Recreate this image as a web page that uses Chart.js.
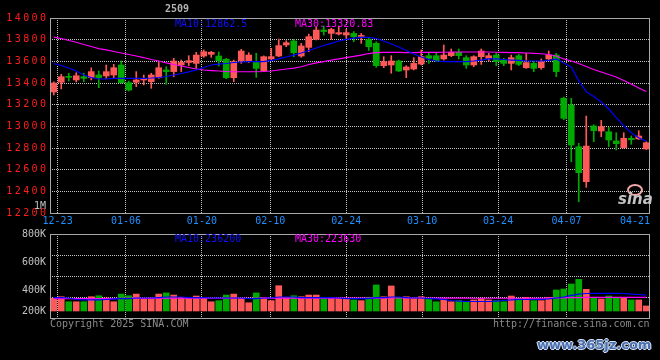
<!DOCTYPE html>
<html lang="zh-CN">
<head>
<meta charset="UTF-8">
<title>2509 日K线</title>
<script src="https://cdn.jsdelivr.net/npm/chart.js@4"></script>
<style>
  html, body { margin: 0; padding: 0; background: #000; width: 660px; height: 360px; overflow: hidden; }
  .wrap { position: relative; width: 660px; height: 360px; font-family: 'DejaVu Sans Mono', monospace; font-size: 10px; }
  #kline { position: absolute; left: 0; top: 0; }
  #vol { position: absolute; left: 0; top: 190px; }
  .txt { position: absolute; white-space: nowrap; line-height: 10px; }
  .blue { color: #1010ff; }
  .pink { color: #ff00ff; }
  .grey { color: #8a8a8a; }
  .mark { font-family: 'DejaVu Sans', sans-serif; font-weight: bold; font-size: 13px; line-height: 16px; color: #4a6fae;
          text-shadow: -1px 0 #d6e2f5, 1px 0 #d6e2f5, 0 -1px #d6e2f5, 0 1px #d6e2f5, 1px 1px 1px #203050; }
  .sina { font-family: 'DejaVu Sans', sans-serif; font-style: italic; font-weight: bold; font-size: 15px; line-height: 16px; color: #c4c4c4; }
  .eye { position: absolute; width: 12px; height: 8px; border: 2px solid #f0a8a8; border-radius: 50%; }
</style>
</head>
<body>
<div class="wrap">
  <canvas id="kline" width="660" height="228"></canvas>
  <canvas id="vol" width="660" height="170"></canvas>

  <div class="txt" style="left:165px; top:4px; font-weight:bold; color:#b4b4b4;">2509</div>
  <div class="txt blue" id="ma10Text" style="left:175px; top:19px;"></div>
  <div class="txt pink" id="ma30Text" style="left:295px; top:19px;"></div>
  <div class="txt blue" style="left:175px; top:234px;">MA10:236200</div>
  <div class="txt pink" style="left:295px; top:234px;">MA30:223630</div>
  <div class="txt grey" style="left:50px; top:319px;">Copyright 2025 SINA.COM</div>
  <div class="txt grey" style="left:493px; top:319px;">http://finance.sina.com.cn</div>
  <div class="eye" style="left:627px; top:184px;"></div>
  <div class="txt sina" style="left:618px; top:191px;">sina</div>
  <div class="txt mark" style="left:537px; top:337px;">www.365jz.com</div>
</div>

<script>
// trading days shown (12-20 .. 04-22)
const DATES = ['12-20','12-23','12-24','12-25','12-26','12-27','12-30','12-31','01-02','01-03',
  '01-06','01-07','01-08','01-09','01-10','01-13','01-14','01-15','01-16','01-17',
  '01-20','01-21','01-22','01-23','01-24','01-27','02-05','02-06','02-07','02-10',
  '02-11','02-12','02-13','02-14','02-17','02-18','02-19','02-20','02-21','02-24',
  '02-25','02-26','02-27','02-28','03-03','03-04','03-05','03-06','03-07','03-10',
  '03-11','03-12','03-13','03-14','03-17','03-18','03-19','03-20','03-21','03-24',
  '03-25','03-26','03-27','03-28','03-31','04-01','04-02','04-03','04-07','04-08',
  '04-09','04-10','04-11','04-14','04-15','04-16','04-17','04-18','04-21','04-22'];

const OPEN = [13317,13407,13458,13428,13458,13450,13474,13465,13474,13566,
  13403,13407,13428,13412,13450,13520,13505,13566,13590,13581,
  13649,13665,13649,13619,13449,13603,13603,13597,13514,13622,
  13649,13751,13788,13649,13729,13803,13889,13858,13852,13843,
  13858,13830,13800,13766,13560,13566,13603,13520,13529,13575,
  13652,13652,13622,13652,13683,13634,13566,13643,13628,13658,
  13612,13581,13652,13541,13581,13541,13622,13658,13259,13197,
  12812,12489,13003,12957,12950,12865,12803,12889,12883,12791];
const HIGH = [13410,13480,13490,13495,13490,13540,13511,13566,13572,13603,
  13418,13505,13474,13490,13590,13551,13628,13612,13652,13683,
  13705,13692,13686,13628,13612,13711,13680,13674,13650,13720,
  13806,13790,13803,13766,13852,13914,13926,13905,13926,13895,
  13875,13858,13812,13781,13643,13652,13612,13560,13634,13705,
  13674,13674,13751,13714,13714,13652,13652,13714,13674,13674,
  13628,13658,13665,13674,13603,13622,13695,13674,13270,13259,
  12843,13095,13015,13055,12990,12941,12941,12911,12960,12858];
const LOW = [13290,13345,13418,13410,13412,13428,13357,13443,13443,13397,
  13326,13366,13382,13351,13443,13388,13458,13505,13560,13535,
  13637,13637,13557,13440,13412,13581,13588,13452,13505,13615,
  13643,13735,13643,13637,13689,13797,13843,13803,13843,13812,
  13781,13766,13700,13545,13541,13490,13505,13449,13520,13566,
  13581,13597,13612,13643,13622,13535,13551,13572,13603,13560,
  13560,13520,13560,13535,13505,13526,13612,13458,13060,12674,
  12304,12437,12858,12905,12812,12782,12800,12834,12880,12785];
const CLOSE = [13400,13458,13452,13467,13443,13505,13450,13505,13541,13403,
  13335,13428,13443,13474,13541,13505,13603,13590,13606,13658,
  13689,13683,13606,13449,13597,13695,13658,13535,13643,13643,
  13745,13772,13680,13742,13828,13889,13875,13895,13865,13865,
  13828,13838,13735,13560,13597,13603,13511,13548,13581,13643,
  13628,13606,13658,13683,13652,13566,13643,13695,13652,13597,
  13581,13634,13572,13588,13535,13597,13658,13505,13074,12828,
  12572,12818,12960,12997,12874,12840,12889,12876,12911,12849];

const MA10 = [13580,13562,13538,13511,13474,13451,13437,13437,13442,13443,
  13443,13443,13443,13446,13451,13460,13474,13488,13502,13520,
  13543,13566,13575,13580,13589,13594,13597,13597,13598,13608,
  13622,13640,13658,13677,13700,13723,13746,13766,13788,13803,
  13815,13822,13822,13811,13788,13760,13732,13700,13668,13640,
  13617,13603,13598,13597,13597,13598,13603,13612,13622,13622,
  13617,13612,13608,13603,13603,13603,13608,13622,13585,13548,
  13420,13320,13275,13225,13160,13080,13005,12940,12895,12862.5];
const MA30 = [13823,13811,13792,13776,13755,13737,13718,13705,13691,13677,
  13663,13649,13635,13617,13603,13585,13571,13557,13543,13529,
  13520,13515,13511,13506,13504,13504,13504,13504,13506,13511,
  13520,13529,13538,13550,13571,13585,13598,13612,13622,13635,
  13645,13658,13672,13681,13683,13683,13683,13681,13681,13683,
  13683,13683,13684,13686,13686,13686,13686,13686,13686,13684,
  13683,13681,13680,13677,13674,13670,13663,13649,13622,13603,
  13580,13552,13525,13502,13478,13455,13423,13391,13354,13320.83];

const VOLUME = [341000,352000,316000,316000,316000,352000,359000,343000,316000,371000,
  359000,371000,334000,343000,371000,379000,364000,348000,348000,357000,
  348000,316000,324000,364000,371000,341000,309000,379000,348000,324000,
  431000,348000,359000,352000,364000,364000,348000,348000,341000,334000,
  329000,324000,348000,436000,352000,429000,348000,352000,341000,352000,
  334000,316000,329000,316000,324000,316000,329000,338000,329000,324000,
  316000,357000,341000,348000,324000,324000,348000,400000,407000,443000,
  476000,405000,348000,336000,357000,348000,341000,329000,329000,286000];
const VOL_MA10 = [346000,346000,343000,332000,329000,329000,329000,332000,336000,339000,
  339000,343000,343000,343000,346000,350000,350000,350000,346000,346000,
  346000,343000,343000,343000,343000,343000,339000,339000,343000,343000,
  350000,350000,350000,346000,346000,346000,346000,346000,343000,339000,
  339000,339000,339000,346000,346000,350000,350000,346000,343000,343000,
  339000,336000,332000,325000,321000,318000,318000,318000,318000,321000,
  325000,329000,332000,332000,332000,332000,336000,343000,350000,361000,
  371000,375000,376000,376000,376000,376000,375000,371000,368000,364000];
const VOL_MA30 = [339000,339000,339000,339000,339000,339000,339000,339000,339000,340000,
  340000,340000,340000,340000,340000,341000,341000,341000,341000,341000,
  341000,341000,341000,341000,341000,341000,341000,341000,342000,342000,
  342000,342000,342000,342000,342000,342000,342000,342000,342000,342000,
  342000,342000,342000,342000,342000,343000,343000,343000,343000,343000,
  343000,342000,342000,342000,342000,342000,341000,341000,341000,341000,
  341000,341000,341000,341000,341000,341000,342000,343000,344000,345000,
  346000,347000,347000,347000,347000,348000,348000,348000,348000,348000];
const VOL_BASE = 250000;

// axis text
const DATE_TICKS = [1, 10, 20, 29, 39, 49, 59, 68, 78];
const PRICE_TICKS = [14000, 13800, 13600, 13400, 13200, 13000, 12800, 12600, 12400, 12200];
const VOL_TICKS = [1000000, 800000, 600000, 400000, 200000];
const VOL_TICK_LABELS = ['1M', '800K', '600K', '400K', '200K'];

const UP = '#ff5858', DOWN = '#00aa00';
const GRID = '#c4c4c4';
const MONO = '"DejaVu Sans Mono", monospace';

document.getElementById('ma10Text').textContent = 'MA10:' + MA10[MA10.length - 1];
document.getElementById('ma30Text').textContent = 'MA30:' + MA30[MA30.length - 1];

const candleColors = OPEN.map((o, i) => CLOSE[i] >= o ? UP : DOWN);

// gray box round the plot area
const frame = {
  id: 'frame',
  afterDatasetsDraw(chart) {
    const { ctx, chartArea: a } = chart;
    ctx.save();
    ctx.strokeStyle = '#a8a8a8';
    ctx.lineWidth = 1;
    ctx.strokeRect(a.left + 0.5, a.top + 0.5, a.right - a.left - 1, a.bottom - a.top);
    ctx.restore();
  }
};

// y labels drawn at scale positions (lets us space letters like the original)
const sideLabels = {
  id: 'sideLabels',
  afterDraw(chart, args, opts) {
    if (!opts.values) return;
    const { ctx, chartArea } = chart;
    const scale = chart.scales.y;
    ctx.save();
    ctx.font = opts.font;
    ctx.fillStyle = opts.color;
    ctx.textAlign = 'right';
    ctx.textBaseline = 'middle';
    if ('letterSpacing' in ctx) ctx.letterSpacing = opts.spacing;
    opts.values.forEach((v, i) => {
      let y = scale.getPixelForValue(v);
      if (opts.floor) y = Math.min(y, chartArea.bottom - opts.floor);
      ctx.fillText(opts.labels[i], opts.right, y);
    });
    ctx.restore();
  }
};

// date labels under the grid lines, last one kept inside the frame
const dateLabels = {
  id: 'dateLabels',
  afterDraw(chart, args, opts) {
    if (!opts.show) return;
    const { ctx, chartArea } = chart;
    const scale = chart.scales.xd;
    ctx.save();
    ctx.font = '10px ' + MONO;
    ctx.fillStyle = '#1e90ff';
    ctx.textAlign = 'center';
    ctx.textBaseline = 'middle';
    DATE_TICKS.forEach(v => {
      const text = DATES[v];
      const half = ctx.measureText(text).width / 2;
      const x = Math.min(scale.getPixelForValue(v), chartArea.right - half);
      ctx.fillText(text, x, chartArea.bottom + 8);
    });
    ctx.restore();
  }
};

function dateAxis(height) {
  return {
    type: 'linear', position: 'bottom', min: 0, max: DATES.length - 1,
    offset: false,
    afterBuildTicks: s => { s.ticks = DATE_TICKS.map(v => ({ value: v })); },
    afterFit: s => { s.height = height; },
    grid: {
      offset: false,
      drawTicks: false,
      color: c => (c.tick && c.tick.value === DATE_TICKS[DATE_TICKS.length - 1]) ? 'transparent' : GRID
    },
    border: { display: false, dash: [1, 1] },
    ticks: { display: false }
  };
}

new Chart(document.getElementById('kline'), {
  type: 'bar',
  data: {
    labels: DATES,
    datasets: [
      { type: 'line', data: MA10, borderColor: '#0000ff', borderWidth: 1.2, pointRadius: 0, order: 0 },
      { type: 'line', data: MA30, borderColor: '#ff00ff', borderWidth: 1.2, pointRadius: 0, order: 0 },
      { data: OPEN.map((o, i) => [o, CLOSE[i]]), backgroundColor: candleColors,
        barThickness: 6, minBarLength: 1, grouped: false, order: 1 },
      { data: LOW.map((l, i) => [l, HIGH[i]]), backgroundColor: candleColors,
        barThickness: 1, grouped: false, order: 2 }
    ]
  },
  options: {
    responsive: false,
    animation: false,
    layout: { padding: { top: 18, right: 10, left: 0, bottom: 15 } },
    plugins: {
      legend: { display: false },
      tooltip: { enabled: false },
      sideLabels: {
        values: PRICE_TICKS, labels: PRICE_TICKS.map(String),
        font: '10px ' + MONO, color: '#ff1e1e', spacing: '2.4px', right: 48.4
      },
      dateLabels: { show: true }
    },
    scales: {
      x: { type: 'category', display: false, offset: true },
      xd: dateAxis(0),
      y: {
        min: 12200, max: 14000,
        afterFit: s => { s.width = 50; },
        ticks: { display: false, stepSize: 200 },
        grid: { drawTicks: false, color: GRID },
        border: { display: false, dash: [1, 1] }
      }
    }
  },
  plugins: [frame, sideLabels, dateLabels]
});

new Chart(document.getElementById('vol'), {
  type: 'bar',
  data: {
    labels: DATES,
    datasets: [
      { type: 'line', data: VOL_MA10, borderColor: '#0000ff', borderWidth: 1.2, pointRadius: 0, order: 0 },
      { type: 'line', data: VOL_MA30, borderColor: '#ff00ff', borderWidth: 1.2, pointRadius: 0, order: 0 },
      { data: VOLUME.map(v => [VOL_BASE, v]), backgroundColor: candleColors,
        barThickness: 6, grouped: false, order: 1 }
    ]
  },
  options: {
    responsive: false,
    animation: false,
    layout: { padding: { top: 44, right: 10, left: 0, bottom: 42 } },
    plugins: {
      legend: { display: false },
      tooltip: { enabled: false },
      sideLabels: {
        values: VOL_TICKS, labels: VOL_TICK_LABELS,
        font: '10px ' + MONO, color: '#c0c0c0', spacing: '0px', right: 46, floor: 7
      },
      dateLabels: { show: false }
    },
    scales: {
      x: { type: 'category', display: false, offset: true },
      xd: dateAxis(0),
      y: {
        min: 200000, max: 800000,
        afterFit: s => { s.width = 50; },
        ticks: { display: false, stepSize: 150000 },
        grid: { drawTicks: false, color: GRID },
        border: { display: false, dash: [1, 1] }
      }
    }
  },
  plugins: [frame, sideLabels, dateLabels]
});
</script>
</body>
</html>
